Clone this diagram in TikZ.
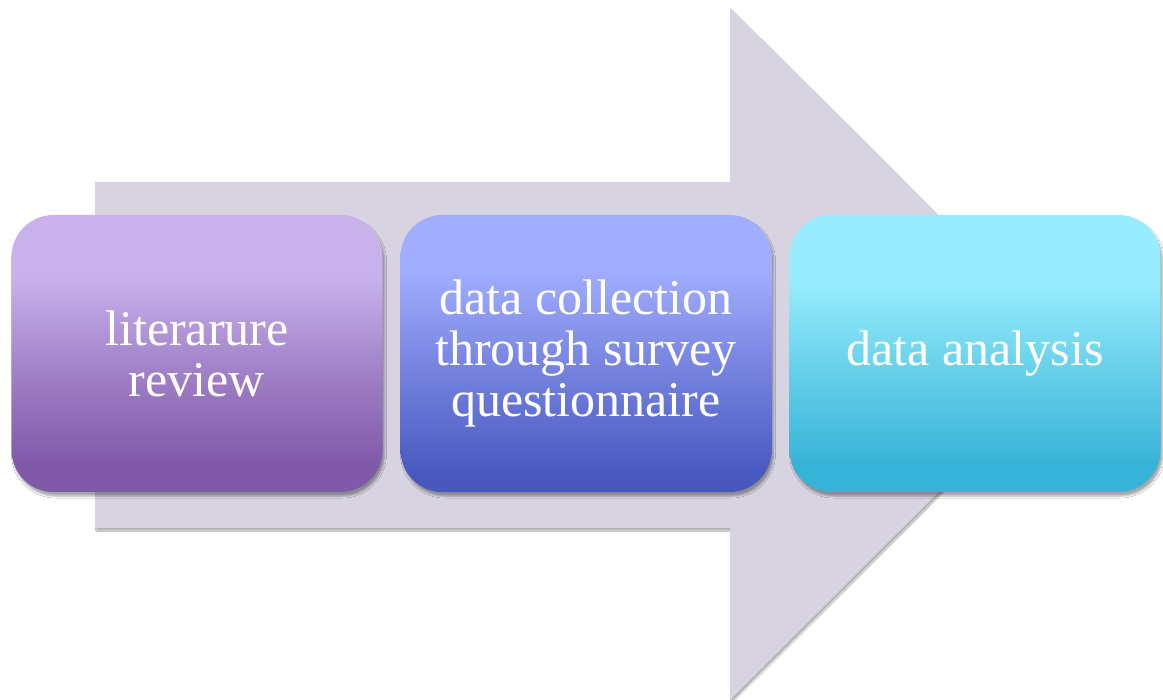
\documentclass[tikz,border=0pt]{standalone}
\usepackage{fontspec}
\setmainfont{Liberation Serif}
\usetikzlibrary{shadows.blur}
\definecolor{arrowfill}{HTML}{D7D3E1}
\definecolor{aTop}{HTML}{C9B2EC}
\definecolor{aBot}{HTML}{8059A9}
\definecolor{bTop}{HTML}{A1ADFE}
\definecolor{bBot}{HTML}{4858BF}
\definecolor{cTop}{HTML}{97EDFD}
\definecolor{cBot}{HTML}{37B3D7}
\pgfdeclareverticalshading{shA}{100bp}{color(0bp)=(aBot); color(30bp)=(aBot); color(47bp)=(aBot!55!aTop); color(64bp)=(aTop); color(100bp)=(aTop)}
\pgfdeclareverticalshading{shB}{100bp}{color(0bp)=(bBot); color(28bp)=(bBot); color(47bp)=(bBot!50!bTop); color(65bp)=(bTop); color(100bp)=(bTop)}
\pgfdeclareverticalshading{shC}{100bp}{color(0bp)=(cBot); color(30bp)=(cBot); color(47bp)=(cBot!50!cTop); color(63bp)=(cTop); color(100bp)=(cTop)}
\tikzset{
  stagebox/.style={minimum width=371pt, minimum height=277pt, rounded corners=42pt,
    inner sep=0pt, align=center, text=white,
    font=\fontsize{50}{51}\selectfont,
    blur shadow={shadow xshift=2pt, shadow yshift=-4pt, shadow blur radius=2pt, shadow opacity=35}},
}
\begin{document}
\begin{tikzpicture}[x=1pt,y=-1pt]
\useasboundingbox (0,0) rectangle (1163,700);
\fill[white] (0,0) rectangle (1163,700);
\fill[arrowfill, blur shadow={shadow xshift=1.5pt, shadow yshift=-2.5pt, shadow blur radius=1pt, shadow opacity=30}]
  (95,182) -- (730,182) -- (730,8) -- (1077,354) -- (730,700) -- (730,528) -- (95,528) -- cycle;
\node[stagebox, shading=shA] (lit) at (197,353.5) {literarure\\review};
\node[stagebox, shading=shB] (col) at (586,353.5) {data collection\\through survey\\questionnaire};
\node[stagebox, shading=shC] (ana) at (975,353.5) {data analysis};
\end{tikzpicture}
\end{document}
